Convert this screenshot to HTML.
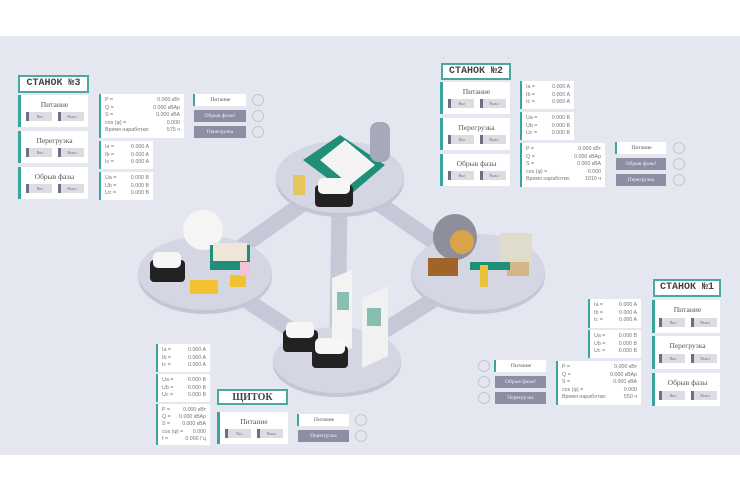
<!DOCTYPE html>
<html><head><meta charset="utf-8"><style>
*{margin:0;padding:0;box-sizing:border-box}
body{width:740px;height:493px;background:#fff;position:relative;overflow:hidden;font-family:"Liberation Serif",serif;color:#666}
.band{position:absolute;left:0;top:36px;width:740px;height:419px;background:#e4e6f0}
.a{position:absolute}
.title{position:absolute;background:#fff;border:2px solid #4aa8a0;font-family:"Liberation Mono",monospace;font-weight:bold;font-size:10px;color:#444;text-align:center;line-height:13px}
.pan{position:absolute;background:#fff;border-left:3px solid #3aa59c;text-align:center;font-size:7.5px;color:#555}
.pan .l{margin-top:5px}
.pan .bs{position:absolute;left:0;right:0;bottom:6px;display:flex;justify-content:center;gap:6px}
.pan .b{width:26px;height:9px;background:#dcdce2;border-left:3px solid #6d6f85;font-size:4px;line-height:9px;color:#777}
.box{position:absolute;background:#fff;border-left:2px solid #3aa59c;font-family:"Liberation Sans",sans-serif;font-size:5.3px;color:#777;padding:3px 4px;line-height:7.6px}
.box div{display:flex;justify-content:space-between}
.btn{position:absolute;font-size:5.5px;text-align:center;line-height:12px;height:12px}
.w{background:#fff;border-left:2px solid #3aa59c;color:#555}
.g{background:#8c8ea4;color:#eef}
.c{position:absolute;width:12px;height:12px;border:1.3px solid #c4c6d0;border-radius:50%}
</style></head><body>
<div class="band"></div>
<svg class="a" style="left:0;top:0" width="740" height="493">
<g stroke="#c6c7d7" stroke-width="16" fill="none">
<path d="M205 273 L340 177 L478 272 L337 360 Z"/>
<path d="M340 177 L337 360"/>
</g>
<g fill="#c4c5d5">
<ellipse cx="340" cy="181" rx="64" ry="36"/><ellipse cx="205" cy="277" rx="67" ry="37"/>
<ellipse cx="478" cy="276" rx="67" ry="38"/><ellipse cx="337" cy="364" rx="64" ry="33"/>
</g>
<g fill="#d5d6e3">
<ellipse cx="340" cy="177" rx="64" ry="36"/><ellipse cx="205" cy="273" rx="67" ry="37"/>
<ellipse cx="478" cy="272" rx="67" ry="38"/><ellipse cx="337" cy="360" rx="64" ry="33"/>
</g>
<!-- top machine -->
<path d="M303 160 L340 135 L385 165 L350 195 Z" fill="#1f8f78"/>
<path d="M320 160 L345 140 L375 165 L350 185 Z" fill="#f4f4f4"/>
<rect x="370" y="122" width="20" height="40" rx="8" fill="#a8a9b8"/>
<rect x="315" y="185" width="38" height="22" rx="4" fill="#222"/>
<rect x="318" y="178" width="32" height="16" rx="5" fill="#f6f6f6"/>
<rect x="293" y="175" width="12" height="20" fill="#e9c23c" opacity=".8"/>
<!-- left -->
<ellipse cx="203" cy="230" rx="20" ry="20" fill="#f5f5f5"/>
<rect x="210" y="245" width="40" height="25" fill="#1f8f78"/>
<rect x="213" y="243" width="34" height="18" fill="#eee7d9"/>
<rect x="150" y="260" width="35" height="22" rx="4" fill="#222"/>
<rect x="153" y="252" width="28" height="16" rx="5" fill="#f6f6f6"/>
<rect x="190" y="280" width="28" height="14" fill="#f2c230"/>
<rect x="230" y="275" width="16" height="12" fill="#f2c230"/>
<rect x="240" y="262" width="10" height="14" fill="#f0c4d8"/>
<!-- right -->
<ellipse cx="455" cy="237" rx="22" ry="23" fill="#8e8f9a"/>
<circle cx="462" cy="242" r="12" fill="#d8a44a"/>
<rect x="428" y="258" width="30" height="18" fill="#a0642a"/>
<rect x="500" y="233" width="32" height="30" fill="#e0dccc"/>
<rect x="507" y="262" width="22" height="14" fill="#d4b489"/>
<rect x="470" y="262" width="40" height="8" fill="#1f8f78"/>
<rect x="480" y="265" width="8" height="22" fill="#e9c23c"/>
<!-- bottom -->
<path d="M332 278 L352 270 L352 348 L332 356 Z" fill="#f3f3f3"/>
<path d="M362 298 L388 286 L388 356 L362 368 Z" fill="#f1f1f1"/>
<rect x="337" y="292" width="12" height="18" fill="#5aa895" opacity=".7"/>
<rect x="367" y="308" width="14" height="18" fill="#5aa895" opacity=".7"/>
<rect x="283" y="330" width="35" height="22" rx="4" fill="#222"/>
<rect x="286" y="322" width="28" height="16" rx="5" fill="#f6f6f6"/>
<rect x="312" y="346" width="36" height="22" rx="4" fill="#222"/>
<rect x="315" y="338" width="30" height="16" rx="5" fill="#f6f6f6"/>
</svg>

<!-- СТАНОК 3 -->
<div class="title" style="left:18px;top:75px;width:71px;height:18px">СТАНОК №3</div>
<div class="pan" style="left:18px;top:95px;width:70px;height:32px"><div class="l">Питание</div><div class="bs"><div class="b">Вкл</div><div class="b">Выкл</div></div></div>
<div class="pan" style="left:18px;top:131px;width:70px;height:32px"><div class="l">Перегрузка</div><div class="bs"><div class="b">Вкл</div><div class="b">Выкл</div></div></div>
<div class="pan" style="left:18px;top:167px;width:70px;height:32px"><div class="l">Обрыв фазы</div><div class="bs"><div class="b">Вкл</div><div class="b">Выкл</div></div></div>
<div class="box" style="left:99px;top:94px;width:85px;height:44px"><div><span>P =</span><span>0.000 кВт</span></div><div><span>Q =</span><span>0.000 кВАр</span></div><div><span>S =</span><span>0.000 кВА</span></div><div><span>cos (φ) =</span><span>0.000</span></div><div><span>Время наработки:</span><span>575 ч</span></div></div>
<div class="box" style="left:99px;top:141px;width:54px;height:28px"><div><span>Ia =</span><span>0.000 A</span></div><div><span>Ib =</span><span>0.000 A</span></div><div><span>Ic =</span><span>0.000 A</span></div></div>
<div class="box" style="left:99px;top:172px;width:54px;height:28px"><div><span>Ua =</span><span>0.000 B</span></div><div><span>Ub =</span><span>0.000 B</span></div><div><span>Uc =</span><span>0.000 B</span></div></div>
<div class="btn w" style="left:193px;top:94px;width:53px">Питание</div>
<div class="btn g" style="left:194px;top:110px;width:52px">Обрыв фазы!</div>
<div class="btn g" style="left:194px;top:126px;width:52px">Перегрузка</div>
<div class="c" style="left:252px;top:94px"></div><div class="c" style="left:252px;top:110px"></div><div class="c" style="left:252px;top:126px"></div>

<!-- СТАНОК 2 -->
<div class="title" style="left:441px;top:63px;width:70px;height:17px">СТАНОК №2</div>
<div class="pan" style="left:440px;top:82px;width:70px;height:32px"><div class="l">Питание</div><div class="bs"><div class="b">Вкл</div><div class="b">Выкл</div></div></div>
<div class="pan" style="left:440px;top:118px;width:70px;height:32px"><div class="l">Перегрузка</div><div class="bs"><div class="b">Вкл</div><div class="b">Выкл</div></div></div>
<div class="pan" style="left:440px;top:154px;width:70px;height:32px"><div class="l">Обрыв фазы</div><div class="bs"><div class="b">Вкл</div><div class="b">Выкл</div></div></div>
<div class="box" style="left:520px;top:81px;width:54px;height:28px"><div><span>Ia =</span><span>0.000 A</span></div><div><span>Ib =</span><span>0.000 A</span></div><div><span>Ic =</span><span>0.000 A</span></div></div>
<div class="box" style="left:520px;top:112px;width:54px;height:28px"><div><span>Ua =</span><span>0.000 B</span></div><div><span>Ub =</span><span>0.000 B</span></div><div><span>Uc =</span><span>0.000 B</span></div></div>
<div class="box" style="left:520px;top:143px;width:85px;height:44px"><div><span>P =</span><span>0.000 кВт</span></div><div><span>Q =</span><span>0.000 кВАр</span></div><div><span>S =</span><span>0.000 кВА</span></div><div><span>cos (φ) =</span><span>0.000</span></div><div><span>Время наработки:</span><span>1010 ч</span></div></div>
<div class="btn w" style="left:615px;top:142px;width:51px">Питание</div>
<div class="btn g" style="left:616px;top:158px;width:50px">Обрыв фазы!</div>
<div class="btn g" style="left:616px;top:174px;width:50px">Перегрузка</div>
<div class="c" style="left:673px;top:142px"></div><div class="c" style="left:673px;top:158px"></div><div class="c" style="left:673px;top:174px"></div>

<!-- СТАНОК 1 -->
<div class="title" style="left:653px;top:279px;width:68px;height:18px">СТАНОК №1</div>
<div class="pan" style="left:652px;top:300px;width:68px;height:33px"><div class="l">Питание</div><div class="bs"><div class="b">Вкл</div><div class="b">Выкл</div></div></div>
<div class="pan" style="left:652px;top:336px;width:68px;height:33px"><div class="l">Перегрузка</div><div class="bs"><div class="b">Вкл</div><div class="b">Выкл</div></div></div>
<div class="pan" style="left:652px;top:373px;width:68px;height:33px"><div class="l">Обрыв фазы</div><div class="bs"><div class="b">Вкл</div><div class="b">Выкл</div></div></div>
<div class="box" style="left:588px;top:299px;width:53px;height:29px"><div><span>Ia =</span><span>0.000 A</span></div><div><span>Ib =</span><span>0.000 A</span></div><div><span>Ic =</span><span>0.000 A</span></div></div>
<div class="box" style="left:588px;top:330px;width:53px;height:28px"><div><span>Ua =</span><span>0.000 B</span></div><div><span>Ub =</span><span>0.000 B</span></div><div><span>Uc =</span><span>0.000 B</span></div></div>
<div class="box" style="left:556px;top:361px;width:85px;height:44px"><div><span>P =</span><span>0.000 кВт</span></div><div><span>Q =</span><span>0.000 кВАр</span></div><div><span>S =</span><span>0.000 кВА</span></div><div><span>cos (φ) =</span><span>0.000</span></div><div><span>Время наработки:</span><span>550 ч</span></div></div>
<div class="btn w" style="left:494px;top:360px;width:52px">Питание</div>
<div class="btn g" style="left:495px;top:376px;width:51px">Обрыв фазы!</div>
<div class="btn g" style="left:495px;top:392px;width:51px">Перегрузка</div>
<div class="c" style="left:478px;top:360px"></div><div class="c" style="left:478px;top:376px"></div><div class="c" style="left:478px;top:392px"></div>

<!-- ЩИТОК -->
<div class="box" style="left:156px;top:344px;width:54px;height:28px"><div><span>Ia =</span><span>0.000 A</span></div><div><span>Ib =</span><span>0.000 A</span></div><div><span>Ic =</span><span>0.000 A</span></div></div>
<div class="box" style="left:156px;top:374px;width:54px;height:28px"><div><span>Ua =</span><span>0.000 B</span></div><div><span>Ub =</span><span>0.000 B</span></div><div><span>Uc =</span><span>0.000 B</span></div></div>
<div class="box" style="left:156px;top:404px;width:54px;height:41px;line-height:7.2px"><div><span>P =</span><span>0.000 кВт</span></div><div><span>Q =</span><span>0.000 кВАр</span></div><div><span>S =</span><span>0.000 кВА</span></div><div><span>cos (φ) =</span><span>0.000</span></div><div><span>f =</span><span>0.000 Гц</span></div></div>
<div class="title" style="left:217px;top:389px;width:71px;height:16px;font-family:'Liberation Serif',serif">ЩИТОК</div>
<div class="pan" style="left:217px;top:412px;width:71px;height:32px"><div class="l">Питание</div><div class="bs"><div class="b">Вкл</div><div class="b">Выкл</div></div></div>
<div class="btn w" style="left:297px;top:414px;width:52px">Питание</div>
<div class="btn g" style="left:298px;top:430px;width:51px">Перегрузка</div>
<div class="c" style="left:355px;top:414px"></div><div class="c" style="left:355px;top:430px"></div>
</body></html>
